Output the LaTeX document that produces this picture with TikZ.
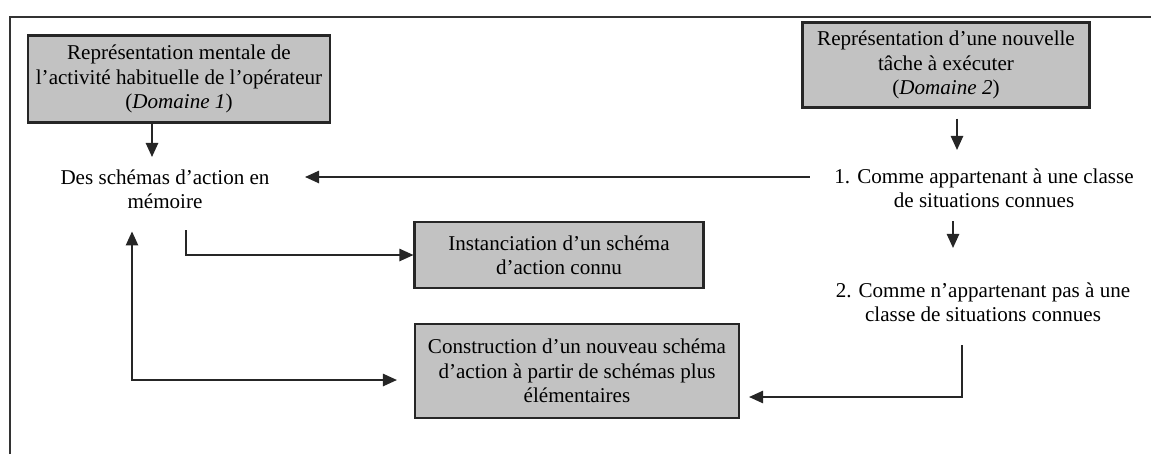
\documentclass[tikz,border=0pt]{standalone}
\usepackage{fontspec}
\setmainfont{Liberation Serif}
\usetikzlibrary{arrows.meta}

\begin{document}
\begin{tikzpicture}[x=0.02cm, y=-0.02cm,
  every node/.style = {align=center, inner sep=2pt, font=\fontsize{12}{13.8}\selectfont},
  box/.style = {draw=black!85, line width=1.2pt, fill=black!24},
  arr/.style = {-{Triangle[length=8pt,width=7pt]}, line width=1pt, draw=black!85},
  biarr/.style = {{Triangle[length=8pt,width=7pt]}-{Triangle[length=8pt,width=7pt]}, line width=1pt, draw=black!85}]
\useasboundingbox (0,0) rectangle (1151,454);
\draw[line width=1pt, black!80] (10,454) -- (10,17) -- (1151,17);

% the two domains
\node[box, minimum width=6.04cm, minimum height=1.74cm] (dom1) at (179,79)
  {Représentation mentale de\\l'activité habituelle de l'opérateur\\(\textit{Domaine 1})};
\node[box, minimum width=5.74cm, minimum height=1.7cm] (dom2) at (946,65)
  {Représentation d'une nouvelle\\tâche à exécuter\\(\textit{Domaine 2})};

% plain texts
\node (schemas) at (165,189) {Des schémas d'action en\\mémoire};
\node (connues) at (984,188) {1. Comme appartenant à une classe\\de situations connues};
\node (inconnues) at (983,302) {2. Comme n'appartenant pas à une\\classe de situations connues};

% the two outcomes
\node[box, minimum width=5.78cm, minimum height=1.32cm] (inst) at (559,255)
  {Instanciation d'un schéma\\d'action connu};
\node[box, minimum width=6.48cm, minimum height=1.88cm] (constr) at (577,371)
  {Construction d'un nouveau schéma\\d'action à partir de schémas plus\\élémentaires};

\coordinate (k1) at (152,157);
\coordinate (k2) at (957,150);
\coordinate (k3) at (305,177);
\coordinate (k4) at (953,248);

\draw[arr] (dom1.south -| k1) -- (k1);
\draw[arr, shorten <=0.2cm] (dom2.south -| k2) -- (k2);
\draw[arr, shorten <=0.42cm] (connues.west |- k3) -- (k3);
\draw[arr, shorten <=0.2cm] (connues.south -| k4) -- (k4);
\draw[arr, shorten <=0.36cm] ([xshift=0.42cm]schemas.south) |- (inst.west);
\draw[biarr] ([xshift=-0.66cm,yshift=-0.38cm]schemas.south) |- ([xshift=-0.34cm,yshift=-0.18cm]constr.west);
\draw[arr, shorten <=0.4cm] ([xshift=-0.42cm]inconnues.south) |- ([xshift=0.18cm,yshift=-0.52cm]constr.east);
\end{tikzpicture}
\end{document}
